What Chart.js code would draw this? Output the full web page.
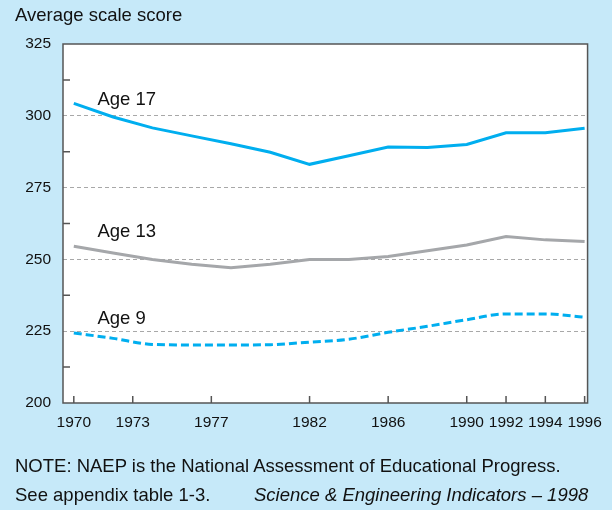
<!DOCTYPE html>
<html>
<head>
<meta charset="utf-8">
<script src="https://cdn.jsdelivr.net/npm/chart.js@4.4.0/dist/chart.umd.min.js"></script>
<style>
  html, body { margin: 0; padding: 0; }
  body { width: 612px; height: 510px; background: #c6e9f9; position: relative; overflow: hidden;
         font-family: "Liberation Sans", Arial, sans-serif; color: #111; }
  #chart { position: absolute; left: 0; top: 0; }
  .txt { position: absolute; font-size: 18.5px; line-height: 1; white-space: nowrap; }
</style>
</head>
<body>
<canvas id="chart" width="612" height="510"></canvas>
<div class="txt" style="left:15px; top:6px;">Average scale score</div>
<div class="txt" style="left:15px; top:457px;">NOTE: NAEP is the National Assessment of Educational Progress.</div>
<div class="txt" style="left:15px; top:486px;">See appendix table 1-3.</div>
<div class="txt" style="left:254px; top:486px; font-style:italic;">Science &amp; Engineering Indicators – 1998</div>
<script>
// values (NAEP science trend)
const years = [1970, 1972, 1974, 1976, 1978, 1980, 1982, 1984, 1986, 1988, 1990, 1992, 1994, 1996];
const age17 = [304.3, 299.6, 295.8, 293.0, 290.3, 287.3, 283.1, 286.1, 289.1, 289.0, 290.0, 294.1, 294.1, 295.7];
const age13 = [254.6, 252.2, 250.0, 248.3, 247.1, 248.3, 250.0, 250.0, 251.0, 253.0, 255.0, 258.0, 256.8, 256.2];
const age9 = [224.4, 222.5, 220.4, 220.2, 220.2, 220.3, 221.2, 222.2, 224.6, 226.7, 229.0, 231.0, 231.0, 229.9];

const xTicks = [1970, 1973, 1977, 1982, 1986, 1990, 1992, 1994, 1996];
const yMinor = [212.5, 237.5, 262.5, 287.5, 312.5];
const seriesNames = ['Age 17', 'Age 13', 'Age 9'];
// where the series names sit, in data units (year, score)
const nameSpots = [[1971.2, 303.9], [1971.2, 257.9], [1971.2, 227.5]];

const toPts = vals => vals.map((v, i) => ({ x: years[i], y: v }));

const blue = '#00aeef';
const grey = '#a5a7aa';

const framePlugin = {
  id: 'frame',
  beforeDraw(chart) {
    const { ctx, chartArea: a } = chart;
    ctx.save();
    ctx.fillStyle = '#fff';
    ctx.fillRect(a.left, a.top, a.right - a.left, a.bottom - a.top);
    ctx.restore();
  },
  afterDraw(chart) {
    const { ctx, chartArea: a, scales } = chart;
    ctx.save();
    ctx.strokeStyle = '#555';
    ctx.lineWidth = 1.5;
    ctx.beginPath();
    xTicks.forEach(v => {
      const px = scales.x.getPixelForValue(v);
      ctx.moveTo(px, a.bottom);
      ctx.lineTo(px, a.bottom - 7);
    });
    yMinor.forEach(v => {
      const py = scales.y.getPixelForValue(v);
      ctx.moveTo(a.left, py);
      ctx.lineTo(a.left + 7, py);
    });
    ctx.stroke();
    ctx.strokeRect(a.left, a.top, a.right - a.left, a.bottom - a.top);

    ctx.fillStyle = '#111';
    ctx.font = '18.5px "Liberation Sans", Arial, sans-serif';
    ctx.textBaseline = 'alphabetic';
    seriesNames.forEach((name, i) => {
      ctx.fillText(name, scales.x.getPixelForValue(nameSpots[i][0]), scales.y.getPixelForValue(nameSpots[i][1]));
    });
    ctx.restore();
  }
};

new Chart(document.getElementById('chart'), {
  type: 'line',
  data: {
    datasets: [
      { label: seriesNames[0], data: toPts(age17), borderColor: blue, borderWidth: 3, tension: 0 },
      { label: seriesNames[1], data: toPts(age13), borderColor: grey, borderWidth: 3, tension: 0 },
      { label: seriesNames[2], data: toPts(age9), borderColor: blue, borderWidth: 3,
        borderDash: [8, 4], cubicInterpolationMode: 'monotone' }
    ]
  },
  options: {
    responsive: false,
    devicePixelRatio: 1,
    animation: false,
    layout: { padding: { top: 44, right: 24, left: 0, bottom: 0 } },
    elements: { point: { radius: 0 } },
    plugins: { legend: { display: false }, tooltip: { enabled: false } },
    scales: {
      x: {
        type: 'linear',
        min: 1969.45,
        max: 1996.15,
        afterBuildTicks: s => { s.ticks = xTicks.map(v => ({ value: v })); },
        afterFit: s => { s.height = 107; },
        grid: { display: false, drawTicks: false },
        border: { display: false },
        ticks: {
          padding: 10,
          maxRotation: 0,
          autoSkip: false,
          color: '#111',
          font: { family: '"Liberation Sans", Arial, sans-serif', size: 15.5 },
          callback: v => String(v)
        }
      },
      y: {
        min: 200,
        max: 325,
        afterFit: s => { s.width = 63; },
        grid: {
          drawTicks: false,
          color: c => (c.tick && c.tick.value > 200 && c.tick.value < 325) ? '#a8a8a8' : 'rgba(0,0,0,0)',
          lineWidth: 1
        },
        border: { display: false, dash: [4, 3] },
        ticks: {
          stepSize: 25,
          padding: 12,
          color: '#111',
          font: { family: '"Liberation Sans", Arial, sans-serif', size: 15.5 }
        }
      }
    }
  },
  plugins: [framePlugin]
});
</script>
</body>
</html>
